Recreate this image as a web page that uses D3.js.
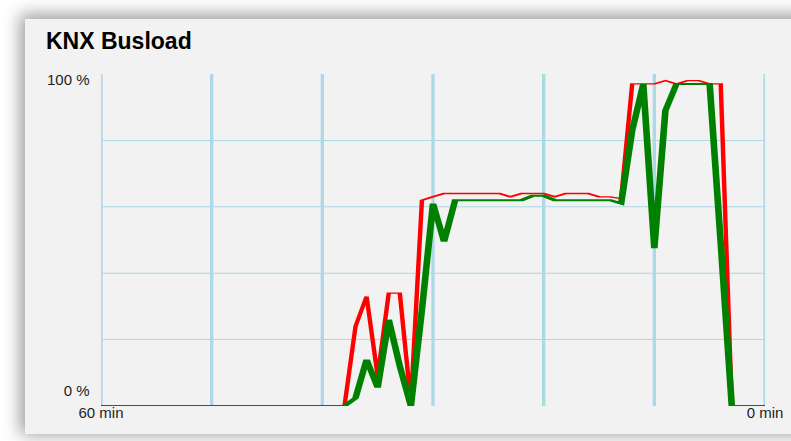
<!DOCTYPE html>
<html>
<head>
<meta charset="utf-8">
<script src="https://cdn.jsdelivr.net/npm/d3@7"></script>
<style>
  html, body { margin: 0; padding: 0; background: #ffffff; width: 791px; height: 441px; overflow: hidden; }
  #card { position: absolute; left: 25px; top: 19px; width: 820px; height: 415px; background: #f2f2f2;
          box-shadow: -2px -2px 16px 3px rgba(0,0,0,0.38); }
  #chart { position: absolute; left: 0; top: 0; }
  text { font-family: "Liberation Sans", Arial, sans-serif; fill: #1e1e1e; }
</style>
</head>
<body>
<div id="card"></div>
<svg id="chart" width="791" height="441"></svg>
<script>
// ---- data ----
const title = "KNX Busload";
const minutesAgo = [60,59,58,57,56,55,54,53,52,51,50,49,48,47,46,45,44,43,42,41,40,
                    39,38,37,36,35,34,33,32,31,30,29,28,27,26,25,24,23,22,21,20,
                    19,18,17,16,15,14,13,12,11,10,9,8,7,6,5,4,3,2,1,0];
const redLoad = [0,0,0,0,0,0,0,0,0,0,0,0,0,0,0,0,0,0,0,0,0,0,
                 0,24,33,9,34,34,1,62,63,64,64,64,64,64,64,63,64,64,64,63,64,64,64,63,63,62.5,
                 97,97,97,98,97,98,98,97,97,0,0,0,0];
const greenLoad = [0,0,0,0,0,0,0,0,0,0,0,0,0,0,0,0,0,0,0,0,0,0,
                   0,2.4,14,5.5,26,12,0,29,61,49.5,62,62,62,62,62,62,62,63.3,63.3,62,62,62,62,62,62,61,
                   83,97,47.5,89,97,97,97,97,49,0,0,0,0];
const xGridMinutes = [60,50,40,30,20,10,0];
const yGridPercent = [20,40,60,80];
const yTickLabels = [{v:100, t:"100 %"}, {v:0, t:"0 %"}];
const xTickLabels = [{v:60, t:"60 min"}, {v:0, t:"0 min"}];

// ---- layout ----
const plot = {left: 101, top: 74, width: 664, height: 332};
const svg = d3.select("#chart");

// pixel scales (for text placement)
const xPx = d3.scaleLinear().domain([60, 0]).range([plot.left, plot.left + plot.width]);
const yPx = d3.scaleLinear().domain([0, 100]).range([plot.top + plot.height, plot.top]);

svg.append("text").attr("x", 46).attr("y", 48.5)
  .style("font-size", "23px").style("font-weight", "bold").style("fill", "#000")
  .text(title);

svg.selectAll("text.ylab").data(yTickLabels).enter().append("text")
  .attr("class", "ylab")
  .attr("x", plot.left - 11.5)
  .attr("y", d => d.v === 100 ? yPx(d.v) + 11 : yPx(d.v) - 10)
  .attr("text-anchor", "end")
  .style("font-size", "15px")
  .text(d => d.t);

svg.selectAll("text.xlab").data(xTickLabels).enter().append("text")
  .attr("class", "xlab")
  .attr("x", d => xPx(d.v))
  .attr("y", plot.top + plot.height + 11.5)
  .attr("text-anchor", "middle")
  .style("font-size", "15px")
  .text(d => d.t);

// inner plot: non-uniform viewBox (minutes x percent)
const inner = svg.append("svg")
  .attr("x", plot.left).attr("y", plot.top)
  .attr("width", plot.width).attr("height", plot.height)
  .attr("viewBox", "0 0 60 100")
  .attr("preserveAspectRatio", "none");

const x = d3.scaleLinear().domain([60, 0]).range([0, 60]);
const y = d3.scaleLinear().domain([0, 100]).range([100, 0]);

inner.selectAll("line.hg").data(yGridPercent).enter().append("line")
  .attr("x1", 0).attr("x2", 60).attr("y1", d => y(d)).attr("y2", d => y(d))
  .attr("stroke", "#add8e6").attr("stroke-width", 0.3);

inner.selectAll("line.vg").data(xGridMinutes).enter().append("line")
  .attr("y1", 0).attr("y2", 100).attr("x1", d => x(d)).attr("x2", d => x(d))
  .attr("stroke", "#add8e6").attr("stroke-width", 0.3);

const line = d3.line().x(d => x(d[0])).y(d => y(d[1]));

inner.append("path")
  .attr("d", line(minutesAgo.map((m, i) => [m, redLoad[i]])))
  .attr("fill", "none").attr("stroke", "#ff0000").attr("stroke-width", 0.4);

inner.append("path")
  .attr("d", line(minutesAgo.map((m, i) => [m, greenLoad[i]])))
  .attr("fill", "none").attr("stroke", "#008000").attr("stroke-width", 0.6);
</script>
</body>
</html>
